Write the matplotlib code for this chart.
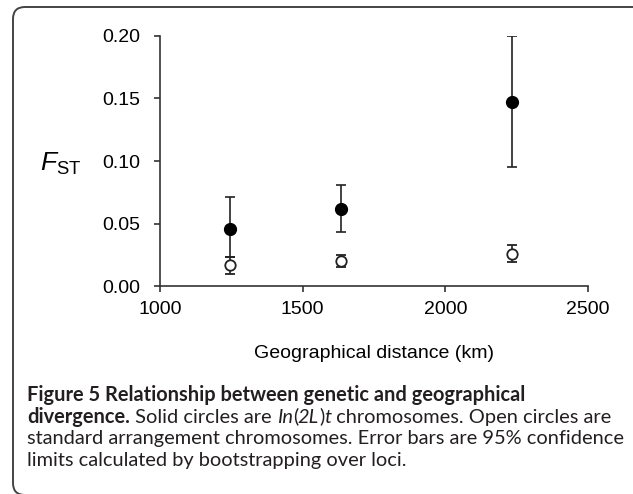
import matplotlib.pyplot as plt
from matplotlib.patches import FancyBboxPatch

plt.rcParams['font.family'] = ['Liberation Sans', 'DejaVu Sans']
plt.rcParams['mathtext.fontset'] = 'custom'
plt.rcParams['mathtext.rm'] = 'Liberation Sans'
plt.rcParams['mathtext.it'] = 'Liberation Sans:italic'

# distances (km) and FST estimates
distance = [1245, 1634, 2232]
fst_inv = [0.046, 0.062, 0.147]
fst_inv_lo = [0.023, 0.043, 0.095]
fst_inv_hi = [0.071, 0.081, 0.200]
fst_std = [0.017, 0.020, 0.026]
fst_std_lo = [0.010, 0.015, 0.019]
fst_std_hi = [0.023, 0.025, 0.033]

xticks = [1000, 1500, 2000, 2500]
yticks = [0.00, 0.05, 0.10, 0.15, 0.20]

W, H = 633, 494
fig = plt.figure(figsize=(W / 100, H / 100), dpi=100)
ax = fig.add_axes([160 / W, (H - 286) / H, 428 / W, 250 / H])

err_inv = [[m - l for m, l in zip(fst_inv, fst_inv_lo)],
           [h - m for m, h in zip(fst_inv, fst_inv_hi)]]
err_std = [[m - l for m, l in zip(fst_std, fst_std_lo)],
           [h - m for m, h in zip(fst_std, fst_std_hi)]]

ax.errorbar(distance, fst_std, yerr=err_std, fmt='o', color='#222222',
            mfc='white', mec='#222222', mew=1.3, ms=7.5, elinewidth=1.2,
            capsize=3.5, capthick=1.2, zorder=3)
ax.errorbar(distance, fst_inv, yerr=err_inv, fmt='o', color='#222222',
            mfc='black', mec='black', ms=8.5, elinewidth=1.2,
            capsize=3.5, capthick=1.2, zorder=4)

ax.set_xlim(1000, 2500)
ax.set_ylim(0, 0.20)
ax.set_xticks(xticks)
ax.set_yticks(yticks)
ax.set_yticklabels(['%.2f' % v for v in yticks])
for s in ['top', 'right']:
    ax.spines[s].set_visible(False)
for s in ['left', 'bottom']:
    ax.spines[s].set_linewidth(1.2)
    ax.spines[s].set_color('#333333')
ax.tick_params(direction='out', length=4, width=1.2, color='#333333',
               labelsize=14)
ax.tick_params(axis='y', pad=10)
ax.tick_params(axis='x', pad=7)
ax.set_xlabel('Geographical distance (km)', fontsize=14, labelpad=19)
ax.set_facecolor('none')

fig.text(40 / W, 1 - 171 / H, r'$\mathit{F}_{\mathrm{ST}}$', fontsize=19,
         va='baseline', ha='left')

# rounded frame around the figure panel (right and bottom edges run off the image)
frame = FancyBboxPatch((13, -1), 640, 488, boxstyle='round,pad=0,rounding_size=12',
                       transform=None, fill=False, ec='#444444', lw=1.4)
fig.patches.append(frame)

# caption with mixed bold / italic runs
cap_font = ['Lato', 'DejaVu Sans']
cap_size = 14.4
cap_color = '#231f20'
lines = [
    [('Figure 5 Relationship between genetic and geographical', 'bold', 'normal')],
    [('divergence.', 'bold', 'normal'), (' Solid circles are ', 'normal', 'normal'),
     ('In', 'normal', 'italic'), ('(', 'normal', 'normal'), ('2L', 'normal', 'italic'),
     (')', 'normal', 'normal'), ('t', 'normal', 'italic'),
     (' chromosomes. Open circles are', 'normal', 'normal')],
    [('standard arrangement chromosomes. Error bars are 95% confidence', 'normal', 'normal')],
    [('limits calculated by bootstrapping over loci.', 'normal', 'normal')],
]
baselines = [401, 422.5, 444, 465.5]

fig.canvas.draw()
renderer = fig.canvas.get_renderer()
for runs, base in zip(lines, baselines):
    x = 27
    for txt, wt, st in runs:
        t = fig.text(x / W, 1 - base / H, txt, fontsize=cap_size, family=cap_font,
                     weight=wt, style=st, color=cap_color, va='baseline', ha='left')
        x += t.get_window_extent(renderer).width

fig.savefig('out.png', dpi=100)
